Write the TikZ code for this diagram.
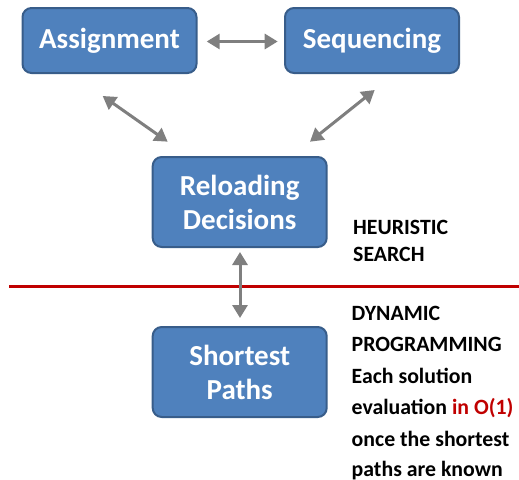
\documentclass[tikz,border=0pt]{standalone}
\usepackage{fontspec}
\setmainfont{Carlito}
\usetikzlibrary{arrows.meta}
\definecolor{boxfill}{HTML}{4F81BD}
\definecolor{boxline}{HTML}{385D8A}
\definecolor{arrgray}{HTML}{7F7F7F}
\definecolor{darkred}{HTML}{C00000}
\tikzset{
  box/.style={draw=boxline, line width=2pt, fill=boxfill, rounded corners=9pt,
    minimum width=174pt, minimum height=90pt, text=white, align=center,
    font=\bfseries\fontsize{29}{34}\selectfont, inner sep=0pt},
  topbox/.style={box, minimum height=65pt},
  link/.style={draw=arrgray, line width=3pt,
    {Triangle[length=13pt,width=15pt]}-{Triangle[length=13pt,width=15pt]}, shorten <=0pt, shorten >=0pt},
  note/.style={anchor=base west, inner sep=0pt, font=\bfseries\fontsize{21.8}{24}\selectfont}
}
\begin{document}
\begin{tikzpicture}[x=1pt,y=-1pt]
\useasboundingbox (0,0) rectangle (519,479);
\node[topbox] (asg) at (109.5,40.5) {Assignment};
\node[topbox] (seq) at (372,40.5) {Sequencing};
\node[box] (rel) at (239.7,202) {Reloading\\Decisions};
\node[box] (sp) at (239.7,372) {Shortest\\Paths};
\coordinate (a1) at (206.7,41.5);
\coordinate (a2) at (277.7,41.5);
\coordinate (l1) at (102.7,96);
\coordinate (l2) at (167.7,141.7);
\coordinate (r1) at (374.7,90);
\coordinate (r2) at (310,141.7);
\coordinate (v1) at (240,252);
\coordinate (v2) at (240,318);
\draw[link] (a1) -- (a2);
\draw[link] (l1) -- (l2);
\draw[link] (r1) -- (r2);
\coordinate (redL) at (9,286);
\coordinate (redR) at (519,286);
\draw[darkred, line width=3pt] (redL) -- (redR);
\draw[link] (v1) -- (v2);
\node[note] (h1) at (353,234) {HEURISTIC};
\node[note] (h2) at (353,261) {SEARCH};
\node[note] (d1) at (351.5,320.5) {DYNAMIC};
\node[note] (d2) at (351.5,351.8) {PROGRAMMING};
\node[note] (d3) at (351.5,383.5) {Each solution};
\node[note] (d4) at (351.5,414.8) {evaluation \textcolor{darkred}{in O(1)}};
\node[note] (d5) at (351.5,446.3) {once the shortest};
\node[note] (d6) at (351.5,476.5) {paths are known};
\end{tikzpicture}
\end{document}
